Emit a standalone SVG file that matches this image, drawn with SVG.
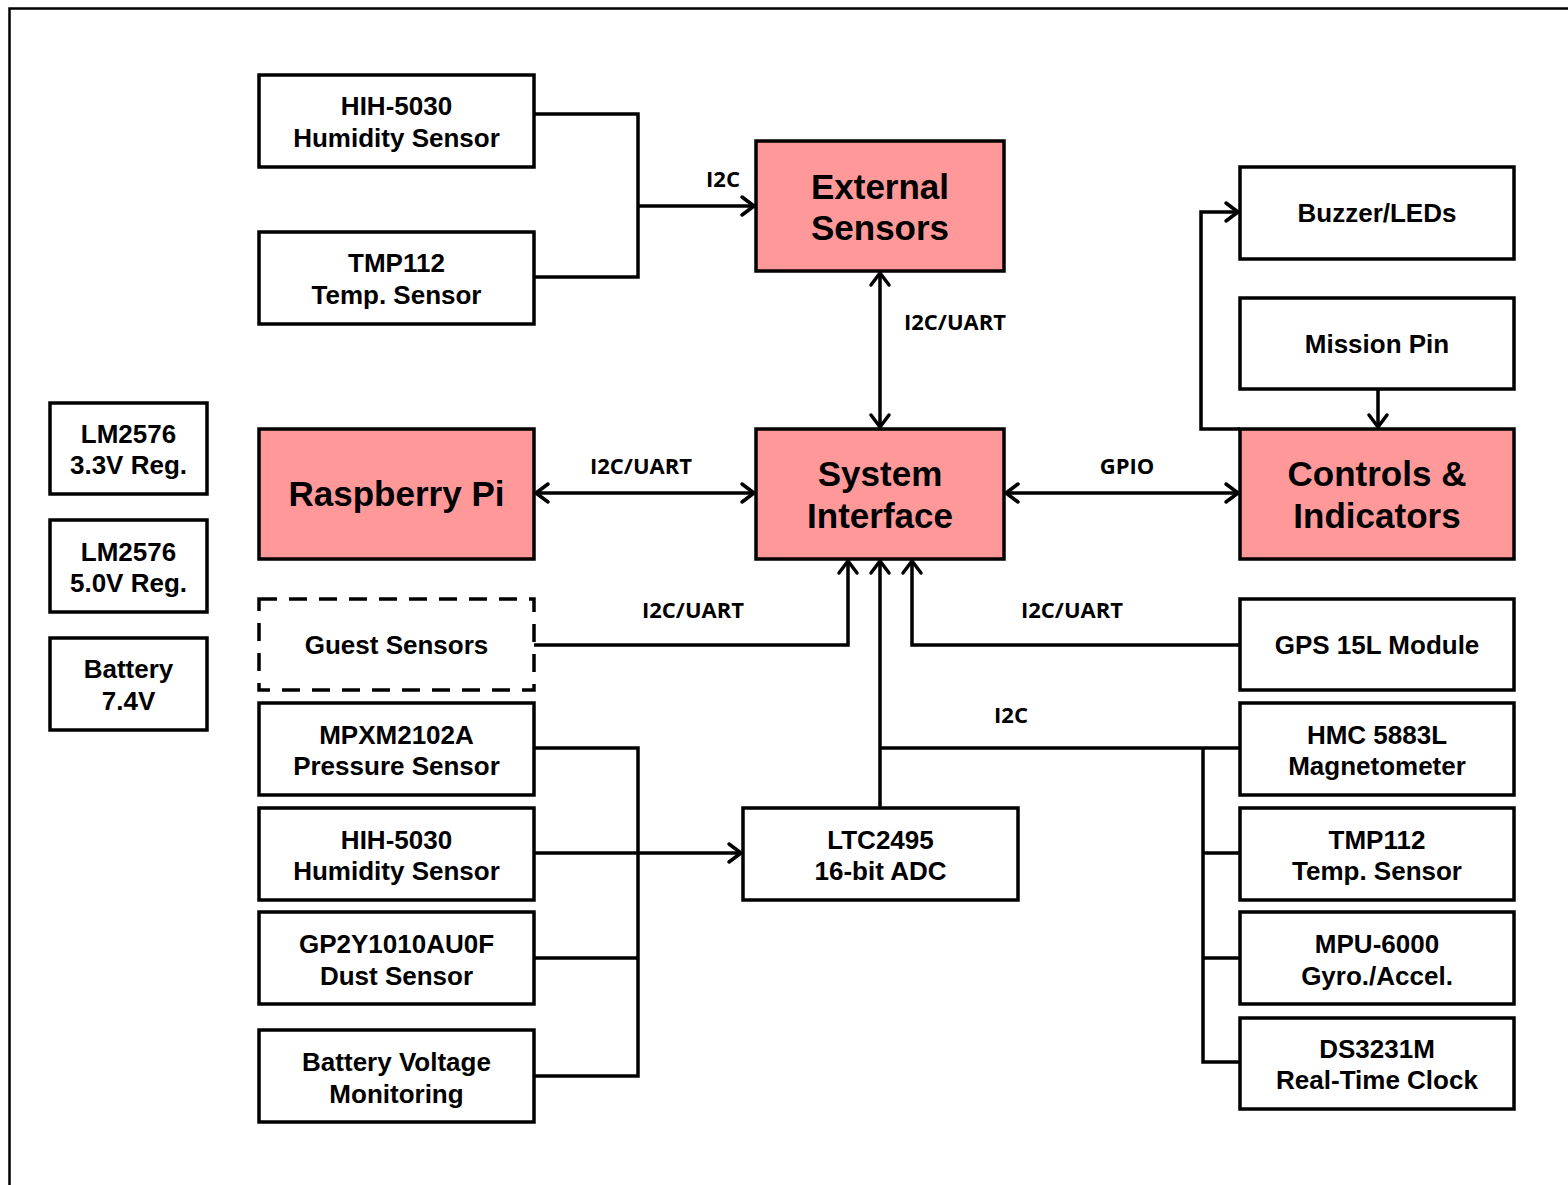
<svg xmlns="http://www.w3.org/2000/svg" width="1568" height="1185" viewBox="0 0 1568 1185">
<defs>
<style>
.b{fill:#fff;stroke:#000;stroke-width:3.5}
.p{fill:#ff9999;stroke:#000;stroke-width:3.5}
.d{fill:#fff;stroke:#000;stroke-width:3.5;stroke-dasharray:18 12}
.t{font-family:"Liberation Sans",Arial,sans-serif;font-weight:bold;font-size:26px;text-anchor:middle;fill:#000}
.T{font-family:"Liberation Sans",Arial,sans-serif;font-weight:bold;font-size:35px;text-anchor:middle;fill:#000}
.l{font-family:"Open Sans","Noto Sans",sans-serif;font-weight:bold;font-size:22px;text-anchor:middle;fill:#000}
.c{fill:none;stroke:#000;stroke-width:3.5}
.a{marker-end:url(#ah)}
.s{marker-start:url(#ah2)}
</style>
<marker id="ah" markerUnits="userSpaceOnUse" markerWidth="20" markerHeight="24" viewBox="0 0 20 24" refX="16" refY="12" orient="auto">
<path d="M4,3 L16,12 L4,21" fill="none" stroke="#000" stroke-width="3.5" stroke-linecap="round" stroke-linejoin="round"/>
</marker>
<marker id="ah2" markerUnits="userSpaceOnUse" markerWidth="20" markerHeight="24" viewBox="0 0 20 24" refX="4" refY="12" orient="auto">
<path d="M16,3 L4,12 L16,21" fill="none" stroke="#000" stroke-width="3.5" stroke-linecap="round" stroke-linejoin="round"/>
</marker>
</defs>
<rect x="0" y="0" width="1568" height="1185" fill="#fff"/>
<rect x="9.5" y="8.5" width="1600" height="1200" fill="none" stroke="#000" stroke-width="2.5"/>

<g id="connectors">
<path class="c" d="M534,114 H638 V277 H534"/>
<path class="c a" d="M638,206 H754"/>
<path class="c a s" d="M880,273 V427"/>
<path class="c a s" d="M536,493 H754"/>
<path class="c a s" d="M1006,493 H1238"/>
<path class="c a" d="M534,645 H848 V561"/>
<path class="c a" d="M1240,645 H912 V561"/>
<path class="c a" d="M880,808 V561"/>
<path class="c" d="M880,748 H1240"/>
<path class="c" d="M1203,748 V1062 H1240 M1203,853 H1240 M1203,958 H1240"/>
<path class="c" d="M534,748 H638 V1076 H534 M534,958 H638"/>
<path class="c a" d="M534,853 H741"/>
<path class="c a" d="M1240,429 H1201 V212 H1238"/>
<path class="c a" d="M1378,389 V427"/>
<text class="l" x="723" y="187">I2C</text>
<text class="l" x="955" y="330">I2C/UART</text>
<text class="l" x="641" y="474">I2C/UART</text>
<text class="l" x="1127" y="474">GPIO</text>
<text class="l" x="693" y="618">I2C/UART</text>
<text class="l" x="1072" y="618">I2C/UART</text>
<text class="l" x="1011" y="723">I2C</text>
</g>

<g id="hih-top"><rect class="b" x="259" y="75" width="275" height="92"/><text class="t" x="396.5" y="115">HIH-5030</text><text class="t" x="396.5" y="147">Humidity Sensor</text></g>
<g id="tmp-top"><rect class="b" x="259" y="232" width="275" height="92"/><text class="t" x="396.5" y="272">TMP112</text><text class="t" x="396.5" y="304">Temp. Sensor</text></g>
<g id="external"><rect class="p" x="756" y="141" width="248" height="130"/><text class="T" x="880" y="199">External</text><text class="T" x="880" y="240">Sensors</text></g>
<g id="buzzer"><rect class="b" x="1240" y="167" width="274" height="92"/><text class="t" x="1377" y="222">Buzzer/LEDs</text></g>
<g id="mission"><rect class="b" x="1240" y="298" width="274" height="91"/><text class="t" x="1377" y="353">Mission Pin</text></g>
<g id="lm33"><rect class="b" x="50" y="403" width="157" height="91"/><text class="t" x="128.5" y="443">LM2576</text><text class="t" x="128.5" y="474">3.3V Reg.</text></g>
<g id="lm50"><rect class="b" x="50" y="520" width="157" height="92"/><text class="t" x="128.5" y="561">LM2576</text><text class="t" x="128.5" y="592">5.0V Reg.</text></g>
<g id="battery"><rect class="b" x="50" y="638" width="157" height="92"/><text class="t" x="128.5" y="678">Battery</text><text class="t" x="128.5" y="710">7.4V</text></g>
<g id="rpi"><rect class="p" x="259" y="429" width="275" height="130"/><text class="T" x="396.5" y="506">Raspberry Pi</text></g>
<g id="sysif"><rect class="p" x="756" y="429" width="248" height="130"/><text class="T" x="880" y="486">System</text><text class="T" x="880" y="528">Interface</text></g>
<g id="controls"><rect class="p" x="1240" y="429" width="274" height="130"/><text class="T" x="1377" y="486">Controls &amp;</text><text class="T" x="1377" y="528">Indicators</text></g>
<g id="guest"><rect class="d" x="259" y="599" width="275" height="91"/><text class="t" x="396.5" y="654">Guest Sensors</text></g>
<g id="gps"><rect class="b" x="1240" y="599" width="274" height="91"/><text class="t" x="1377" y="654">GPS 15L Module</text></g>
<g id="mpxm"><rect class="b" x="259" y="703" width="275" height="92"/><text class="t" x="396.5" y="744">MPXM2102A</text><text class="t" x="396.5" y="775">Pressure Sensor</text></g>
<g id="hmc"><rect class="b" x="1240" y="703" width="274" height="92"/><text class="t" x="1377" y="744">HMC 5883L</text><text class="t" x="1377" y="775">Magnetometer</text></g>
<g id="hih-bot"><rect class="b" x="259" y="808" width="275" height="92"/><text class="t" x="396.5" y="849">HIH-5030</text><text class="t" x="396.5" y="880">Humidity Sensor</text></g>
<g id="ltc"><rect class="b" x="743" y="808" width="275" height="92"/><text class="t" x="880.5" y="849">LTC2495</text><text class="t" x="880.5" y="880">16-bit ADC</text></g>
<g id="tmp-right"><rect class="b" x="1240" y="808" width="274" height="92"/><text class="t" x="1377" y="849">TMP112</text><text class="t" x="1377" y="880">Temp. Sensor</text></g>
<g id="gp2y"><rect class="b" x="259" y="912" width="275" height="92"/><text class="t" x="396.5" y="953">GP2Y1010AU0F</text><text class="t" x="396.5" y="985">Dust Sensor</text></g>
<g id="mpu"><rect class="b" x="1240" y="912" width="274" height="92"/><text class="t" x="1377" y="953">MPU-6000</text><text class="t" x="1377" y="985">Gyro./Accel.</text></g>
<g id="ds3231"><rect class="b" x="1240" y="1018" width="274" height="91"/><text class="t" x="1377" y="1058">DS3231M</text><text class="t" x="1377" y="1089">Real-Time Clock</text></g>
<g id="battvolt"><rect class="b" x="259" y="1030" width="275" height="92"/><text class="t" x="396.5" y="1071">Battery Voltage</text><text class="t" x="396.5" y="1103">Monitoring</text></g>
</svg>
